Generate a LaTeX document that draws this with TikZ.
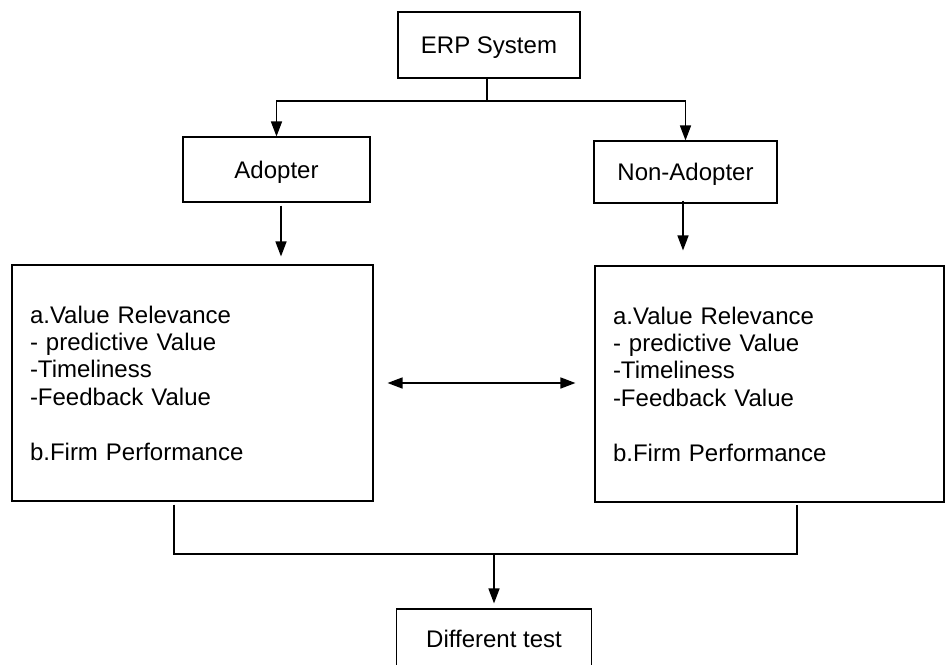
\documentclass[tikz,border=0pt]{standalone}
\usepackage{fontspec}
\setmainfont{Liberation Sans}
\usetikzlibrary{arrows.meta}
\begin{document}
\begin{tikzpicture}[x=1pt,y=-1pt,
  box/.style={draw=black, line width=1.1pt, inner sep=0pt, font=\fontsize{24}{27.4}\selectfont},
  sbox/.style={box, text depth=0pt},
  bigbox/.style={box, align=left, inner xsep=18pt},
  arr/.style={line width=1.5pt, -{Triangle[length=15pt,width=11pt]}},
  arrb/.style={line width=1.5pt, {Triangle[length=15pt,width=11pt]}-{Triangle[length=15pt,width=11pt]}},
  ln/.style={line width=1.3pt}]
\clip (0,0) rectangle (945,664);
\node[sbox, minimum width=182pt, minimum height=66pt] (erp) at (489,45) {ERP System};
\node[sbox, minimum width=187pt, minimum height=65pt] (adop) at (276.5,169.5) {Adopter};
\node[sbox, minimum width=183pt, minimum height=62pt] (nonad) at (685.5,172) {Non-Adopter};
\node[bigbox, minimum width=361pt, minimum height=236pt, text width=325pt] (lbox) at (192.5,383) {a.Value Relevance\\- predictive Value\\-Timeliness\\-Feedback Value\\[27.4pt]b.Firm Performance};
\node[bigbox, minimum width=349pt, minimum height=236pt, text width=313pt] (rbox) at (769.5,384) {a.Value Relevance\\- predictive Value\\-Timeliness\\-Feedback Value\\[27.4pt]b.Firm Performance};
\node[sbox, minimum width=195pt, minimum height=60pt] (dt) at (494,639) {Different test};
\coordinate (jt) at (487,101);
\coordinate (jb) at (494,554);
% top split
\draw[ln] (erp.south -| jt) -- (jt);
\draw[arr] (jt) -| (adop.north);
\draw[arr] (jt) -| (nonad.north);
% down arrows
\draw[arr, shorten <=3pt, shorten >=8pt] ([xshift=4.5pt]adop.south) -- ([xshift=4.5pt]adop.south |- lbox.north);
\draw[arr, shorten <=-3pt, shorten >=15pt] ([xshift=-2.5pt]nonad.south) -- ([xshift=-2.5pt]nonad.south |- rbox.north);
% double arrow
\draw[arrb, shorten <=14pt, shorten >=19pt] (lbox.east) -- (lbox.east -| rbox.west);
% bottom join
\draw[ln] ([xshift=-18.5pt,yshift=-3pt]lbox.south) |- (jb) -| ([xshift=27.5pt,yshift=-2pt]rbox.south);
\draw[arr, shorten >=5pt] (jb) -- (dt.north);
\end{tikzpicture}
\end{document}
